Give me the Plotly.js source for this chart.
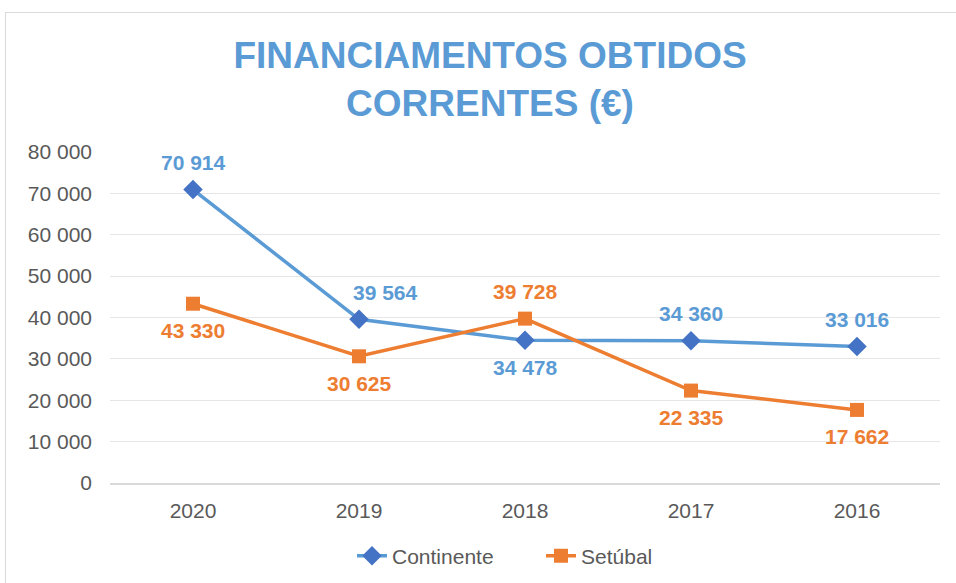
<!DOCTYPE html>
<html>
<head>
<meta charset="utf-8">
<script src="https://cdn.plot.ly/plotly-3.0.1.min.js"></script>
<style>
html,body{margin:0;padding:0;background:#fff;overflow:hidden;}
#frame{position:absolute;left:5px;top:12px;width:1000px;height:650px;border:1.5px solid #D9D9D9;box-sizing:border-box;}
#chart{position:absolute;left:0;top:0;width:956px;height:583px;}
</style>
</head>
<body>
<div id="frame"></div>
<div id="chart"></div>
<script>
var categories = ['2020', '2019', '2018', '2017', '2016'];
var continente = [70914, 39564, 34478, 34360, 33016];
var setubal = [43330, 30625, 39728, 22335, 17662];
var continentePos = ['above', 'above', 'below', 'above', 'above'];
var setubalPos = ['below', 'below', 'above', 'below', 'below'];
var seriesNames = ['Continente', 'Setúbal'];
var titleText = 'FINANCIAMENTOS OBTIDOS<br>CORRENTES (€)';

var FONT = 'Liberation Sans, Arial, sans-serif';
function fmt(v){ return String(v).replace(/\B(?=(\d{3})+(?!\d))/g, ' '); }

var traces = [
  {x: categories, y: continente, name: seriesNames[0], type: 'scatter', mode: 'lines+markers',
   line: {color: '#5B9BD5', width: 3.5}, marker: {symbol: 'diamond', size: 15, color: '#4472C4'}, hoverinfo: 'none'},
  {x: categories, y: setubal, name: seriesNames[1], type: 'scatter', mode: 'lines+markers',
   line: {color: '#ED7D31', width: 3.5}, marker: {symbol: 'square', size: 14, color: '#ED7D31'}, hoverinfo: 'none'}
];

var annotations = [];
function addLabels(vals, pos, color, series){
  for (var i = 0; i < vals.length; i++){
    // the reference nudges Continente's 2019 label to the right to clear the line
    var xs = (series === 0 && i === 1) ? 26 : 0;
    annotations.push({x: i, y: vals[i], xref: 'x', yref: 'y', text: '<b>' + fmt(vals[i]) + '</b>',
      showarrow: false, xanchor: 'center', yanchor: 'middle', xshift: xs, yshift: pos[i] === 'above' ? 27 : -27,
      font: {family: FONT, size: 21, color: color}});
  }
}
addLabels(continente, continentePos, '#5B9BD5', 0);
addLabels(setubal, setubalPos, '#ED7D31', 1);

var layout = {
  width: 956, height: 583,
  margin: {l: 110, r: 16, t: 152, b: 100},
  paper_bgcolor: 'rgba(0,0,0,0)', plot_bgcolor: 'rgba(0,0,0,0)',
  separators: ', ',
  font: {family: FONT, size: 21, color: '#595959'},
  title: {text: '<b>' + titleText.replace('<br>', '</b><br><b>') + '</b>', x: 490/956, xanchor: 'center', yref: 'container', y: 1 - 68/583, yanchor: 'top',
    font: {family: FONT, size: 37, color: '#5B9BD5'}},
  xaxis: {type: 'category', range: [-0.5, 4.5], showgrid: false, zeroline: false,
    showline: true, linecolor: '#D9D9D9', linewidth: 1.5, ticks: '', ticklabelstandoff: 8,
    tickfont: {family: FONT, size: 21, color: '#595959'}, fixedrange: true},
  yaxis: {range: [0, 80000], dtick: 10000, tickformat: ',d', showgrid: true, gridcolor: '#E6E6E6', gridwidth: 1,
    zeroline: false, showline: false, ticks: '', ticklabelstandoff: 17,
    tickfont: {family: FONT, size: 21, color: '#595959'}, fixedrange: true},
  showlegend: true,
  legend: {orientation: 'h', xref: 'container', x: 352/956, xanchor: 'left', yref: 'container', y: 1 - 556/583, yanchor: 'middle',
    entrywidth: 144, entrywidthmode: 'pixels',
    font: {family: FONT, size: 21, color: '#595959'}, tracegroupgap: 0},
  annotations: annotations
};

Plotly.newPlot('chart', traces, layout, {displayModeBar: false, staticPlot: true});
</script>
</body>
</html>
